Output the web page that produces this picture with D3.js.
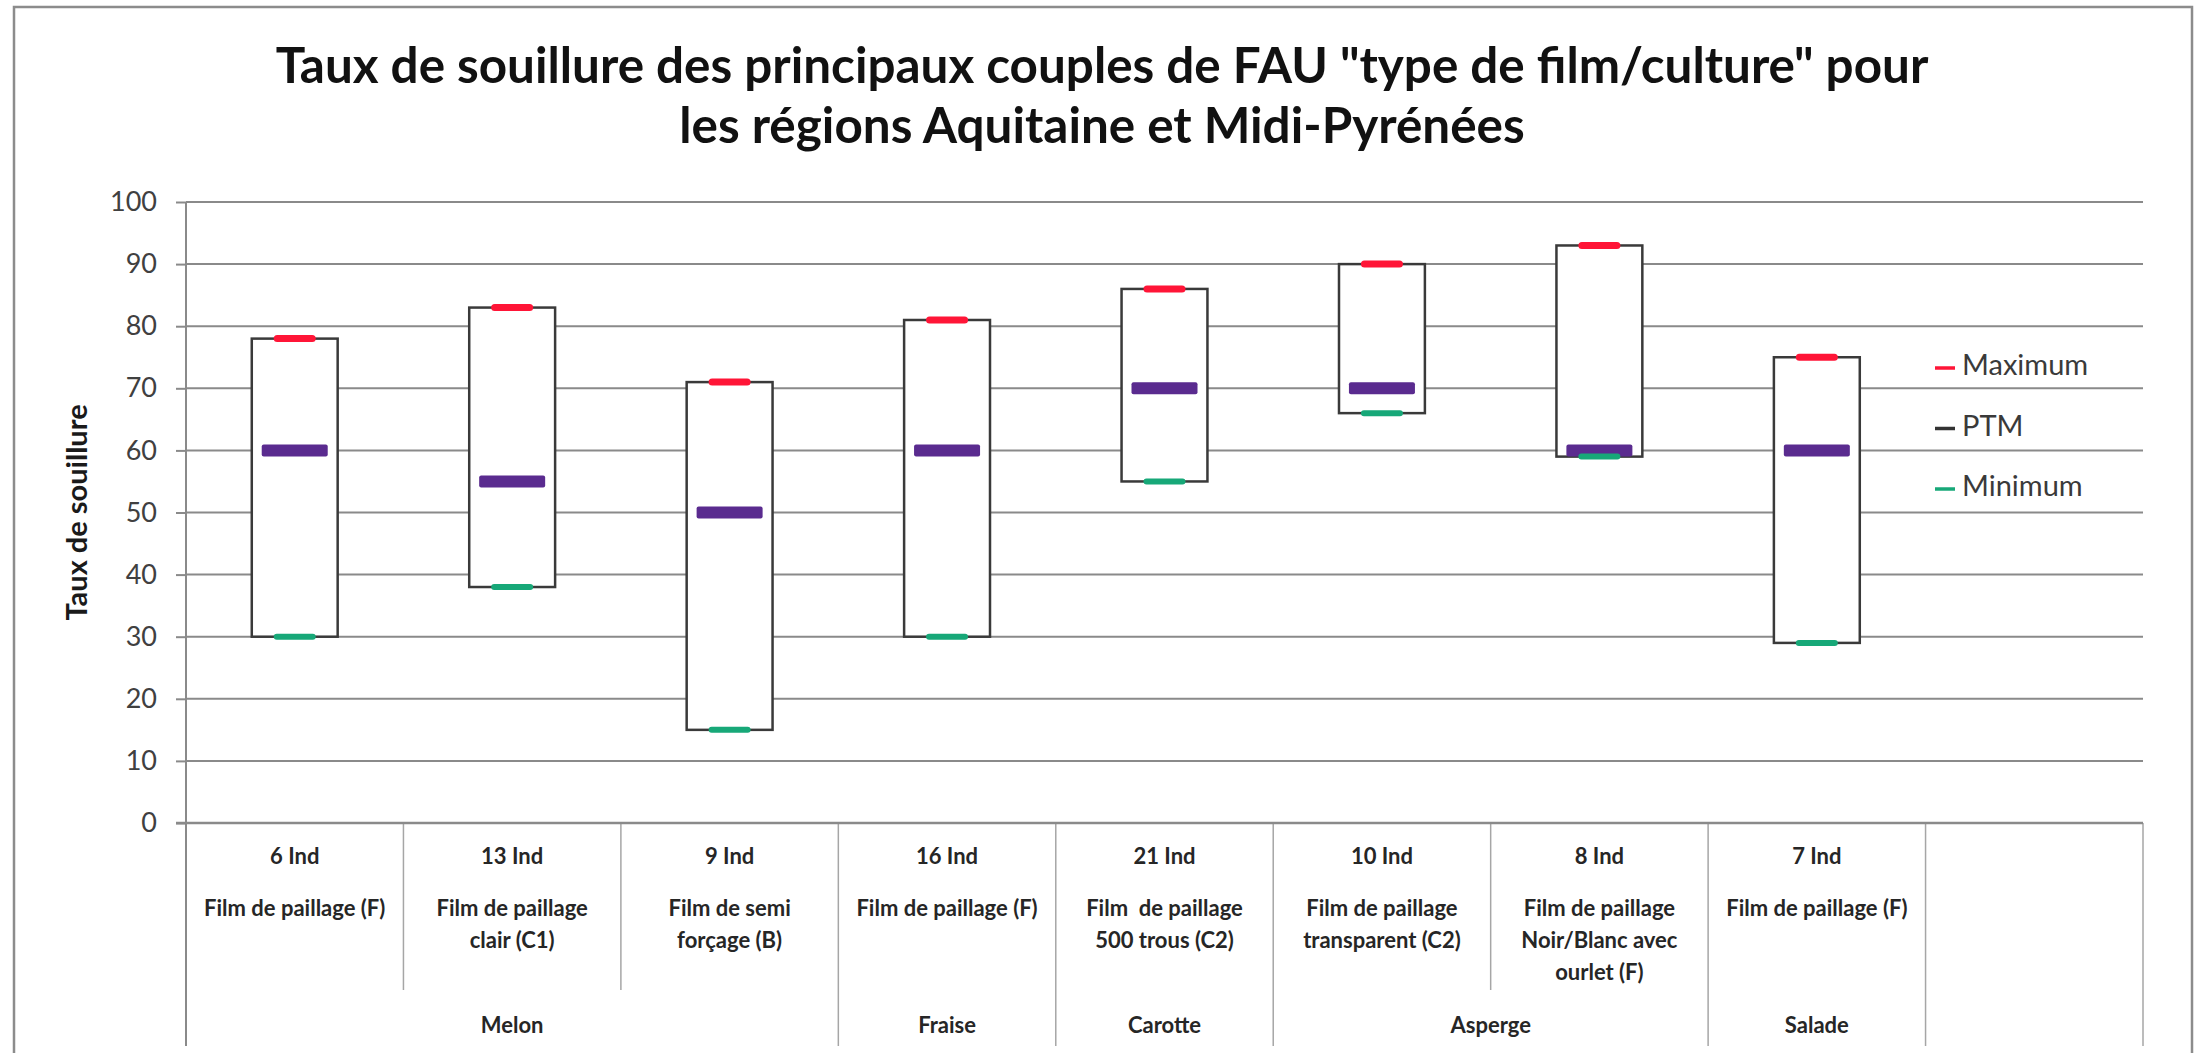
<!DOCTYPE html>
<html>
<head>
<meta charset="utf-8">
<script src="https://cdn.jsdelivr.net/npm/d3@7/dist/d3.min.js"></script>
<style>
  body { margin: 0; background: #fff; }
  svg { display: block; font-family: Lato, "Open Sans", sans-serif; }
</style>
</head>
<body>
<div id="chart"></div>
<script>
// Taux de souillure chart (stock-style boxes min / PTM / max)

// data
var nInd = ['6 Ind', '13 Ind', '9 Ind', '16 Ind', '21 Ind', '10 Ind', '8 Ind', '7 Ind', ''];
var filmLabels = [
  ['Film de paillage (F)'],
  ['Film de paillage', 'clair (C1)'],
  ['Film de semi', 'forçage (B)'],
  ['Film de paillage (F)'],
  ['Film  de paillage', '500 trous (C2)'],
  ['Film de paillage', 'transparent (C2)'],
  ['Film de paillage', 'Noir/Blanc avec', 'ourlet (F)'],
  ['Film de paillage (F)'],
  []
];
var groups = ['Melon', 'Fraise', 'Carotte', 'Asperge', 'Salade', ''];
var groupSpans = [3, 1, 1, 2, 1, 1];
var maxVals = [78, 83, 71, 81, 86, 90, 93, 75];
var ptmVals = [60, 55, 50, 60, 70, 70, 60, 60];
var minVals = [30, 38, 15, 30, 55, 66, 59, 29];
var yTicks = [0, 10, 20, 30, 40, 50, 60, 70, 80, 90, 100];
var legendNames = ['Maximum', 'PTM', 'Minimum'];
var titleLines = ['Taux de souillure des principaux couples de FAU "type de film/culture" pour',
  'les régions Aquitaine et Midi-Pyrénées'];
var yTitle = 'Taux de souillure';

var W = 2199, H = 1053;
var colMax = '#ff1537', colPtm = '#5a2b8f', colMin = '#17a878';
var gridCol = '#8a8a8a', lineCol = '#a6a6a6';

var svg = d3.select('#chart').append('svg')
  .attr('width', W)
  .attr('height', H);

var plotL = 186, plotR = 2143, plotT = 202, plotB = 823;
var tableBottom = 1046;

var x = d3.scaleBand().domain(d3.range(nInd.length)).range([plotL, plotR]);
var y = d3.scaleLinear().domain([0, 100]).range([plotB, plotT]);
var bw = x.bandwidth();

// outer frame
svg.append('rect')
  .attr('x', 14).attr('y', 7)
  .attr('width', W - 14 - 7).attr('height', H - 7 + 4)
  .attr('fill', 'none')
  .attr('stroke', '#8c8c8c')
  .attr('stroke-width', 2.5);

// title
var title = svg.append('g').attr('class', 'title');
titleLines.forEach(function(t, i) {
  title.append('text')
    .attr('x', 1102)
    .attr('y', 83 + i * 60)
    .attr('text-anchor', 'middle')
    .style('font-size', '42px')
    .style('font-weight', 'bold')
    .attr('fill', '#111')
    .text(t);
});
// fit first line to the width seen in the picture
var t0 = title.select('text').node();
var fs = 42 * 1653 / t0.getComputedTextLength();
title.selectAll('text').style('font-size', fs + 'px');

// gridlines
svg.append('g')
  .selectAll('line')
  .data(yTicks.filter(function(d) { return d > 0; }))
  .enter().append('line')
  .attr('x1', plotL).attr('x2', plotR)
  .attr('y1', function(d) { return y(d); })
  .attr('y2', function(d) { return y(d); })
  .attr('stroke', gridCol)
  .attr('stroke-width', 2);

// y axis
var yAxis = svg.append('g')
  .attr('transform', 'translate(' + plotL + ',0)')
  .call(d3.axisLeft(y).tickValues(yTicks).tickSize(10).tickPadding(19).tickSizeOuter(0));
yAxis.select('.domain').remove();
yAxis.selectAll('.tick line').attr('stroke', gridCol).attr('stroke-width', 2);
yAxis.selectAll('.tick text')
  .attr('fill', '#404040')
  .style('font-size', '27px')
  .style('font-family', 'Lato, "Open Sans", sans-serif');

svg.append('text') // y axis title
  .attr('transform', 'translate(80,' + ((plotT + plotB) / 2) + ') rotate(-90)')
  .attr('text-anchor', 'middle')
  .attr('dominant-baseline', 'middle')
  .style('font-size', '29px')
  .style('font-weight', 'bold')
  .attr('fill', '#1a1a1a')
  .text(yTitle);

// category table lines
var tbl = svg.append('g').attr('class', 'table');
var groupEdges = [0];
groupSpans.forEach(function(s, i) { groupEdges.push(groupEdges[i] + s); });

d3.range(nInd.length + 1).forEach(function(i) {
  var isGroup = groupEdges.indexOf(i) >= 0;
  var xx = i < nInd.length ? x(i) : plotR;
  tbl.append('line')
    .attr('x1', xx).attr('x2', xx)
    .attr('y1', i === 0 ? plotT : plotB)
    .attr('y2', isGroup ? tableBottom : 990)
    .attr('stroke', i === 0 ? gridCol : lineCol)
    .attr('stroke-width', i === 0 ? 2 : 1.5);
});

// x axis line
svg.append('line')
  .attr('x1', plotL - 10).attr('x2', plotR)
  .attr('y1', plotB).attr('y2', plotB)
  .attr('stroke', gridCol)
  .attr('stroke-width', 2.5);

var lblFont = 'Lato, "Open Sans", sans-serif';
tbl.selectAll('.nind')
  .data(nInd)
  .enter().append('text')
  .attr('class', 'nind')
  .attr('x', function(d, i) { return x(i) + bw / 2; })
  .attr('y', 858)
  .attr('text-anchor', 'middle')
  .attr('dominant-baseline', 'middle')
  .style('font-family', lblFont)
  .style('font-size', '22px')
  .style('font-weight', 'bold')
  .attr('fill', '#262626')
  .text(function(d) { return d; });

filmLabels.forEach(function(lines, i) {
  lines.forEach(function(l, k) {
    tbl.append('text')
      .attr('x', x(i) + bw / 2)
      .attr('y', 910 + k * 32)
      .attr('text-anchor', 'middle')
      .attr('dominant-baseline', 'middle')
      .style('font-family', lblFont)
      .style('font-size', '22px')
      .style('font-weight', 'bold')
      .style('white-space', 'pre')
      .attr('fill', '#262626')
      .text(l);
  });
});

groups.forEach(function(gname, i) {
  var x0 = x(groupEdges[i]);
  var x1 = groupEdges[i + 1] < nInd.length ? x(groupEdges[i + 1]) : plotR;
  tbl.append('text')
    .attr('x', (x0 + x1) / 2)
    .attr('y', 1027)
    .attr('text-anchor', 'middle')
    .attr('dominant-baseline', 'middle')
    .style('font-family', lblFont)
    .style('font-size', '22px')
    .style('font-weight', 'bold')
    .attr('fill', '#262626')
    .text(gname);
});

// boxes min -> max
var boxW = bw * 0.395;
var g = svg.append('g').attr('class', 'boxes');
g.selectAll('.box')
  .data(maxVals)
  .enter().append('rect')
  .attr('class', 'box')
  .attr('x', function(d, i) { return x(i) + (bw - boxW) / 2; })
  .attr('y', function(d) { return y(d); })
  .attr('width', boxW)
  .attr('height', function(d, i) { return y(minVals[i]) - y(d); })
  .attr('fill', '#fff')
  .attr('stroke', '#3a3a3a')
  .attr('stroke-width', 2.5);

function markers(vals, cls, w, h, col) {
  g.selectAll('.' + cls)
    .data(vals)
    .enter().append('rect')
    .attr('class', cls)
    .attr('x', function(d, i) { return x(i) + (bw - w) / 2; })
    .attr('y', function(d) { return y(d) - h / 2; })
    .attr('width', w)
    .attr('height', h)
    .attr('rx', h / 2 < 4 ? h / 2 : 2)
    .attr('fill', col);
}
markers(ptmVals, 'ptm', 66, 12, colPtm);
markers(maxVals, 'mx', 42, 7, colMax);
markers(minVals, 'mn', 42, 6, colMin);

// legend
var legCols = [colMax, '#333', colMin];
var leg = svg.append('g').attr('class', 'legend');
legendNames.forEach(function(n, i) {
  var ly = 368 + i * 60.5;
  leg.append('line')
    .attr('x1', 1935).attr('x2', 1955)
    .attr('y1', ly).attr('y2', ly)
    .attr('stroke', legCols[i])
    .attr('stroke-width', 3.5);
  leg.append('text')
    .attr('x', 1962)
    .attr('y', ly)
    .attr('dominant-baseline', 'middle')
    .style('font-size', '29px')
    .attr('fill', '#3a3a3a')
    .text(n);
});
</script>
</body>
</html>
